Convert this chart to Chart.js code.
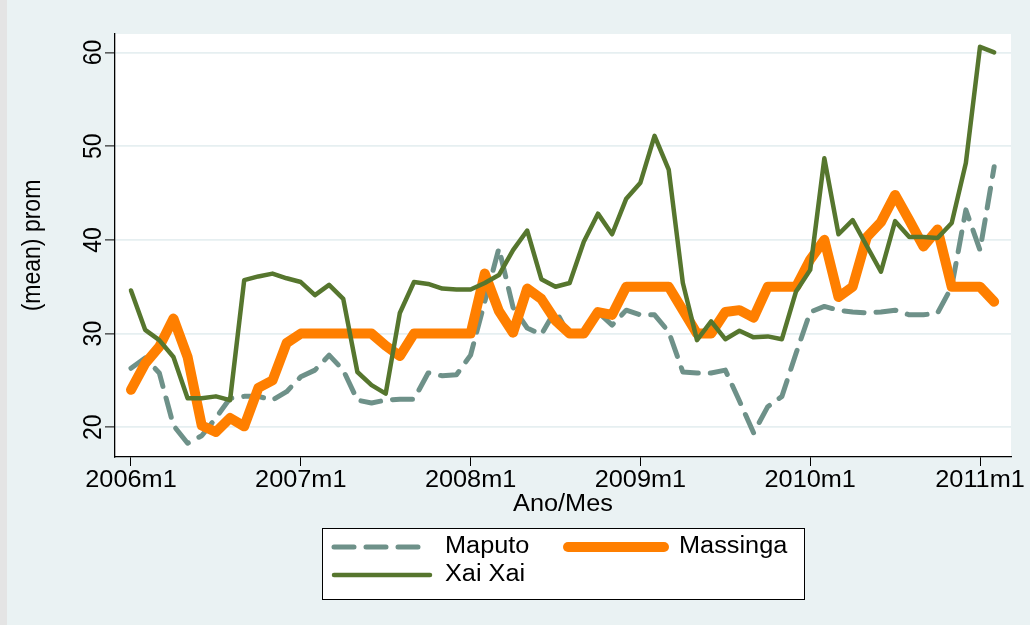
<!DOCTYPE html>
<html>
<head>
<meta charset="utf-8">
<script src="https://cdn.jsdelivr.net/npm/chart.js@4.4.0/dist/chart.umd.min.js"></script>
<style>
html,body{margin:0;padding:0;background:#EAF2F3;overflow:hidden;}
canvas{display:block;}
</style>
</head>
<body>
<canvas id="c" width="1030" height="625"></canvas>
<script>
// ---- data ----
const months = ['2006m1','2006m2','2006m3','2006m4','2006m5','2006m6','2006m7','2006m8','2006m9','2006m10','2006m11','2006m12',
  '2007m1','2007m2','2007m3','2007m4','2007m5','2007m6','2007m7','2007m8','2007m9','2007m10','2007m11','2007m12',
  '2008m1','2008m2','2008m3','2008m4','2008m5','2008m6','2008m7','2008m8','2008m9','2008m10','2008m11','2008m12',
  '2009m1','2009m2','2009m3','2009m4','2009m5','2009m6','2009m7','2009m8','2009m9','2009m10','2009m11','2009m12',
  '2010m1','2010m2','2010m3','2010m4','2010m5','2010m6','2010m7','2010m8','2010m9','2010m10','2010m11','2010m12',
  '2011m1','2011m2'];
const maputo = [26.3,27.4,25.8,20.2,18.3,19.1,21.0,23.1,23.3,23.3,
  22.9,23.8,25.4,26.1,27.7,26.1,22.9,22.6,22.9,23.0,
  23.0,25.8,25.5,25.6,27.7,33.4,39.1,32.8,30.6,29.9,
  32.5,29.7,29.9,32.3,30.9,32.5,32.0,32.0,30.2,25.9,
  25.8,25.8,26.1,22.8,19.4,22.2,23.3,27.9,32.3,32.9,
  32.5,32.3,32.2,32.3,32.5,32.0,32.0,32.2,35.0,43.2,
  38.9,47.8];
const massinga = [24.0,26.8,28.6,31.6,27.5,20.2,19.5,21.0,20.1,24.2,
  25.0,29.0,30.0,30.0,30.0,30.0,30.0,30.0,28.7,27.6,
  30.0,30.0,30.0,30.0,30.0,36.4,32.4,30.1,34.8,33.7,
  31.4,30.0,30.0,32.3,32.0,35.0,35.0,35.0,35.0,32.5,
  30.0,30.0,32.3,32.5,31.7,35.0,35.0,35.0,37.9,40.0,
  33.9,35.0,40.3,41.9,44.8,42.1,39.3,41.1,35.0,35.0,
  35.0,33.4];
const xaixai = [34.6,30.4,29.3,27.5,23.1,23.1,23.3,22.9,35.7,36.1,
  36.4,35.9,35.5,34.1,35.2,33.7,25.9,24.5,23.6,32.2,
  35.5,35.3,34.8,34.7,34.7,35.4,36.25,38.9,41.0,35.8,
  35.0,35.4,39.8,42.8,40.6,44.4,46.1,51.1,47.5,35.4,
  29.3,31.3,29.4,30.3,29.6,29.7,29.4,34.5,36.8,48.7,
  40.6,42.1,39.35,36.6,42.0,40.3,40.3,40.2,41.8,48.2,
  60.6,60.0];
const seriesNames = ['Maputo','Massinga','Xai Xai'];
const xTickLabels = ['2006m1','2007m1','2008m1','2009m1','2010m1','2011m1'];
const yTickValues = [20,30,40,50,60];
const xTitle = 'Ano/Mes';
const yTitle = '(mean) prom';

// ---- styling ----
const FONT = '"Liberation Sans", Arial, sans-serif';
const BG = '#EAF2F3';
const GRID = '#E6EFF1';
const xTickValues = xTickLabels.map(l => months.indexOf(l));

function pts(arr){ return arr.map((v,i)=>({x:i,y:v})); }

function txt(ctx, s, x, y, size, align, rot, sx){
  ctx.save();
  ctx.translate(x,y);
  if (rot){ ctx.rotate(rot); ctx.scale(1, sx||1); }
  else ctx.scale(sx||1, 1);
  ctx.font = size + 'px ' + FONT;
  ctx.textAlign = align;
  ctx.textBaseline = 'middle';
  ctx.fillStyle = '#000';
  ctx.fillText(s, 0, 0);
  ctx.restore();
}

const SX = 1.1;

const deco = {
  id: 'deco',
  beforeDraw(chart){
    const {ctx, chartArea:a} = chart;
    ctx.save();
    ctx.fillStyle = BG;
    ctx.fillRect(0,0,chart.width,chart.height);
    ctx.fillStyle = '#E4E4E4';
    ctx.fillRect(0,0,7,chart.height);
    ctx.fillStyle = '#FFFFFF';
    ctx.fillRect(a.left, a.top, a.right-a.left, a.bottom-a.top);
    ctx.restore();
  },
  afterDraw(chart){
    const {ctx} = chart;
    const xs = chart.scales.x, ys = chart.scales.y;
    xTickLabels.forEach((l,k)=>{
      txt(ctx, l, xs.getPixelForValue(xTickValues[k]), 481, 23, 'center', 0, SX);
    });
    yTickValues.forEach(v=>{
      txt(ctx, String(v), 94, ys.getPixelForValue(v), 23, 'center', -Math.PI/2, SX);
    });
    txt(ctx, xTitle, (chart.chartArea.left+chart.chartArea.right)/2, 505, 23, 'center', 0, SX);
    txt(ctx, yTitle, 33, (chart.chartArea.top+chart.chartArea.bottom)/2, 23, 'center', -Math.PI/2, SX);

    // legend
    ctx.save();
    ctx.fillStyle = '#FFFFFF';
    ctx.fillRect(322, 528, 483, 72);
    ctx.strokeStyle = '#000';
    ctx.lineWidth = 1;
    ctx.strokeRect(322.5, 528.5, 482, 71);
    ctx.restore();
    const pos = [[334,547],[568,547],[334,575]];
    chart.data.datasets.forEach((ds,i)=>{
      const [lx,ly] = pos[i];
      ctx.save();
      ctx.strokeStyle = ds.borderColor;
      ctx.lineWidth = ds.borderWidth;
      ctx.lineCap = ds.borderCapStyle || 'round';
      ctx.setLineDash(ds.borderDash || []);
      ctx.beginPath();
      ctx.moveTo(lx, ly); ctx.lineTo(lx+96, ly);
      ctx.stroke();
      ctx.restore();
      txt(ctx, ds.label, lx+111, ly, 23, 'left', 0, SX);
    });
  }
};

new Chart(document.getElementById('c'), {
  type: 'line',
  data: {
    datasets: [
      { label: seriesNames[0], data: pts(maputo), borderColor: '#6E9189', borderWidth: 5,
        borderDash: [20, 12], borderCapStyle: 'round', borderJoinStyle: 'round', order: 3 },
      { label: seriesNames[1], data: pts(massinga), borderColor: '#FF7F00', borderWidth: 10,
        borderCapStyle: 'round', borderJoinStyle: 'round', order: 2 },
      { label: seriesNames[2], data: pts(xaixai), borderColor: '#56762E', borderWidth: 4.5,
        borderCapStyle: 'round', borderJoinStyle: 'round', order: 1 }
    ]
  },
  options: {
    responsive: false,
    animation: false,
    devicePixelRatio: 1,
    layout: { padding: { left: 0, top: 34, right: 19, bottom: 0 } },
    elements: { point: { radius: 0 }, line: { tension: 0 } },
    plugins: { legend: { display: false }, tooltip: { enabled: false } },
    scales: {
      x: {
        type: 'linear', min: -1.13, max: 62.19,
        afterBuildTicks: s => { s.ticks = xTickValues.map(v=>({value:v})); },
        afterFit: s => { s.height = 168; },
        ticks: { display: false },
        grid: { display: true, drawOnChartArea: false, drawTicks: true, tickLength: 9, tickColor: '#000', tickWidth: 1 },
        border: { display: true, color: '#000', width: 1.3 }
      },
      y: {
        type: 'linear', min: 16.83, max: 61.97,
        afterBuildTicks: s => { s.ticks = yTickValues.map(v=>({value:v})); },
        afterFit: s => { s.width = 115; },
        ticks: { display: false },
        grid: { display: true, drawOnChartArea: true, color: GRID, lineWidth: 1.8, drawTicks: true, tickLength: 10, tickColor: '#000', tickWidth: 1 },
        border: { display: true, color: '#000', width: 1.3 }
      }
    }
  },
  plugins: [deco]
});
</script>
</body>
</html>
